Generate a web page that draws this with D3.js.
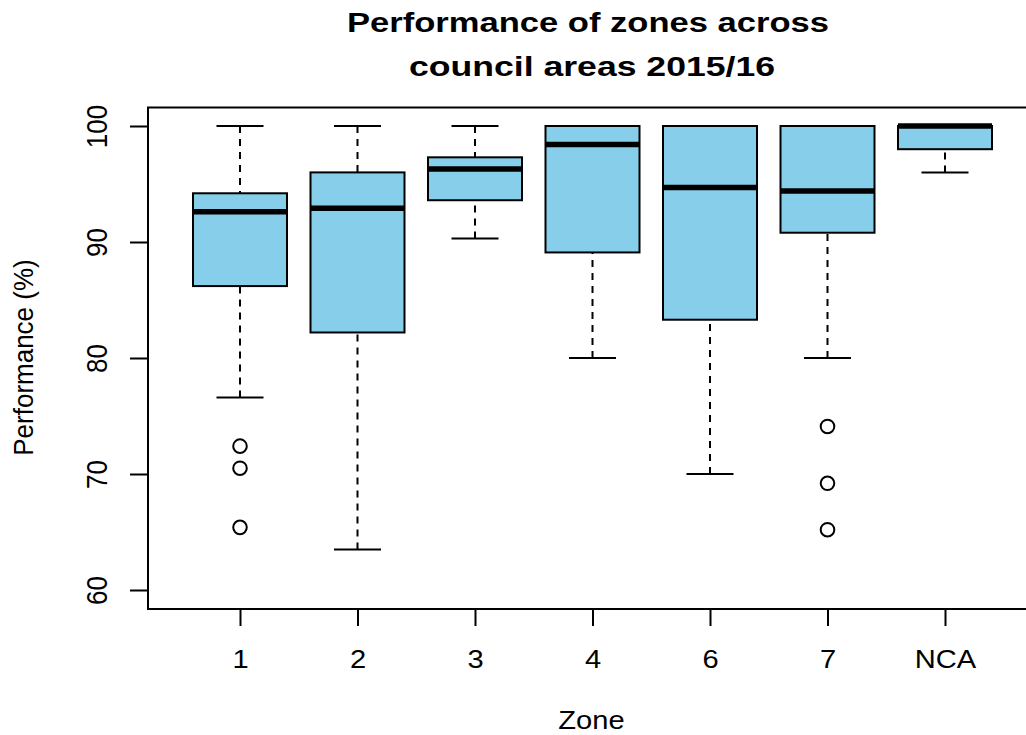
<!DOCTYPE html>
<html>
<head>
<meta charset="utf-8">
<script src="https://cdn.jsdelivr.net/npm/d3@7"></script>
<style>
  html, body { margin: 0; padding: 0; background: #fff; }
  svg { display: block; }
  text { font-family: "Liberation Sans", Arial, Helvetica, sans-serif; fill: #000; }
</style>
</head>
<body>
<svg id="chart" width="1026" height="735"></svg>
<script>
// ---- data ----
const categories   = ["1", "2", "3", "4", "6", "7", "NCA"];
const whiskerLow   = [76.6, 63.5, 90.3, 80.0, 70.0, 80.0, 96.0];
const lowerQuart   = [86.2, 82.2, 93.6, 89.1, 83.3, 90.8, 98.0];
const medians      = [92.6, 92.9, 96.3, 98.4, 94.7, 94.4, 100.0];
const upperQuart   = [94.2, 96.0, 97.3, 100.0, 100.0, 100.0, 100.0];
const whiskerHigh  = [100.0, 100.0, 100.0, 100.0, 100.0, 100.0, 100.0];
const outlierZone  = ["1", "1", "1", "7", "7", "7"];
const outlierValue = [72.4, 70.5, 65.4, 74.1, 69.2, 65.2];
const yTicks       = [60, 70, 80, 90, 100];
const titleLines   = ["Performance of zones across", "council areas 2015/16"];
const xTitle = "Zone";
const yTitle = "Performance (%)";

// ---- layout ----
const svg = d3.select("#chart");
const frame = { left: 148, top: 107.5, right: 1037, bottom: 609 };
const SX = 1.12; // horizontal text stretch

const x = d3.scalePoint().domain(categories).range([240, 945]);
const step = x.step();
const boxW = step * 0.8;
const y = d3.scaleLinear().domain([60, 100]).range([590, 126]);

const boxes = categories.map((c, i) => ({
  c, lo: whiskerLow[i], q1: lowerQuart[i], med: medians[i], q3: upperQuart[i], hi: whiskerHigh[i]
}));
const outliers = outlierZone.map((z, i) => ({ z, v: outlierValue[i] }));

const g = svg.append("g");

// whiskers (dashed), drawn from whisker end toward the box
g.selectAll("line.wlo").data(boxes).join("line")
  .attr("x1", d => x(d.c)).attr("x2", d => x(d.c))
  .attr("y1", d => y(d.lo)).attr("y2", d => y(d.q1))
  .attr("stroke", "#000").attr("stroke-width", 2).attr("stroke-dasharray", "7,6");
g.selectAll("line.whi").data(boxes).join("line")
  .attr("x1", d => x(d.c)).attr("x2", d => x(d.c))
  .attr("y1", d => y(d.hi)).attr("y2", d => y(d.q3))
  .attr("stroke", "#000").attr("stroke-width", 2).attr("stroke-dasharray", "7,6");

// staples
["lo", "hi"].forEach(k => {
  g.selectAll("line.st" + k).data(boxes).join("line")
    .attr("x1", d => x(d.c) - boxW / 4).attr("x2", d => x(d.c) + boxW / 4)
    .attr("y1", d => y(d[k])).attr("y2", d => y(d[k]))
    .attr("stroke", "#000").attr("stroke-width", 2);
});

// boxes
g.selectAll("rect.box").data(boxes).join("rect")
  .attr("x", d => x(d.c) - boxW / 2).attr("width", boxW)
  .attr("y", d => y(d.q3)).attr("height", d => y(d.q1) - y(d.q3))
  .attr("fill", "#87CEEB").attr("stroke", "#000").attr("stroke-width", 2);

// medians
g.selectAll("line.med").data(boxes).join("line")
  .attr("x1", d => x(d.c) - boxW / 2).attr("x2", d => x(d.c) + boxW / 2)
  .attr("y1", d => y(d.med)).attr("y2", d => y(d.med))
  .attr("stroke", "#000").attr("stroke-width", 5.5);

// outliers
g.selectAll("circle.out").data(outliers).join("circle")
  .attr("cx", d => x(d.z)).attr("cy", d => y(d.v)).attr("r", 6.8)
  .attr("fill", "none").attr("stroke", "#000").attr("stroke-width", 2);

// frame
svg.append("rect")
  .attr("x", frame.left).attr("y", frame.top)
  .attr("width", frame.right - frame.left).attr("height", frame.bottom - frame.top)
  .attr("fill", "none").attr("stroke", "#000").attr("stroke-width", 2);

// y axis
const yAxis = svg.append("g")
  .attr("transform", `translate(${frame.left},0)`)
  .call(d3.axisLeft(y).tickValues(yTicks).tickSize(18).tickFormat(d3.format("d")));
yAxis.select(".domain").remove();
yAxis.selectAll(".tick line").attr("stroke", "#000").attr("stroke-width", 2);
yAxis.selectAll(".tick text")
  .attr("x", null).attr("dy", null)
  .attr("transform", `translate(-41,0) scale(${SX},1) rotate(-90)`)
  .attr("text-anchor", "middle")
  .style("font-size", "26px")
  .style("font-family", '"Liberation Sans", Arial, sans-serif')
  .attr("fill", "#000");

// x axis
const xAxis = svg.append("g")
  .attr("transform", `translate(0,${frame.bottom})`)
  .call(d3.axisBottom(x).tickSize(17));
xAxis.select(".domain").remove();
xAxis.selectAll(".tick line").attr("stroke", "#000").attr("stroke-width", 2);
xAxis.selectAll(".tick text")
  .attr("y", null).attr("dy", null)
  .attr("transform", `translate(0,58.7) scale(${SX},1)`)
  .attr("text-anchor", "middle")
  .style("font-size", "26px")
  .style("font-family", '"Liberation Sans", Arial, sans-serif')
  .attr("fill", "#000");

// axis titles
svg.append("text")
  .attr("transform", `translate(591.5,729) scale(${SX},1)`)
  .attr("text-anchor", "middle").style("font-size", "26px")
  .text(xTitle);
svg.append("text")
  .attr("transform", `translate(33,357.5) scale(1.06,1) rotate(-90)`)
  .attr("text-anchor", "middle").style("font-size", "26px")
  .text(yTitle);

// title
const titleLens = [482, 366];
const titleBase = [31.5, 76];
titleLines.forEach((t, i) => {
  svg.append("text")
    .attr("x", 588 - titleLens[i] / 2 + (i === 1 ? 4 : 0)).attr("y", titleBase[i])
    .attr("textLength", titleLens[i]).attr("lengthAdjust", "spacingAndGlyphs")
    .style("font-size", "27px").style("font-weight", "bold")
    .text(t);
});
</script>
</body>
</html>
